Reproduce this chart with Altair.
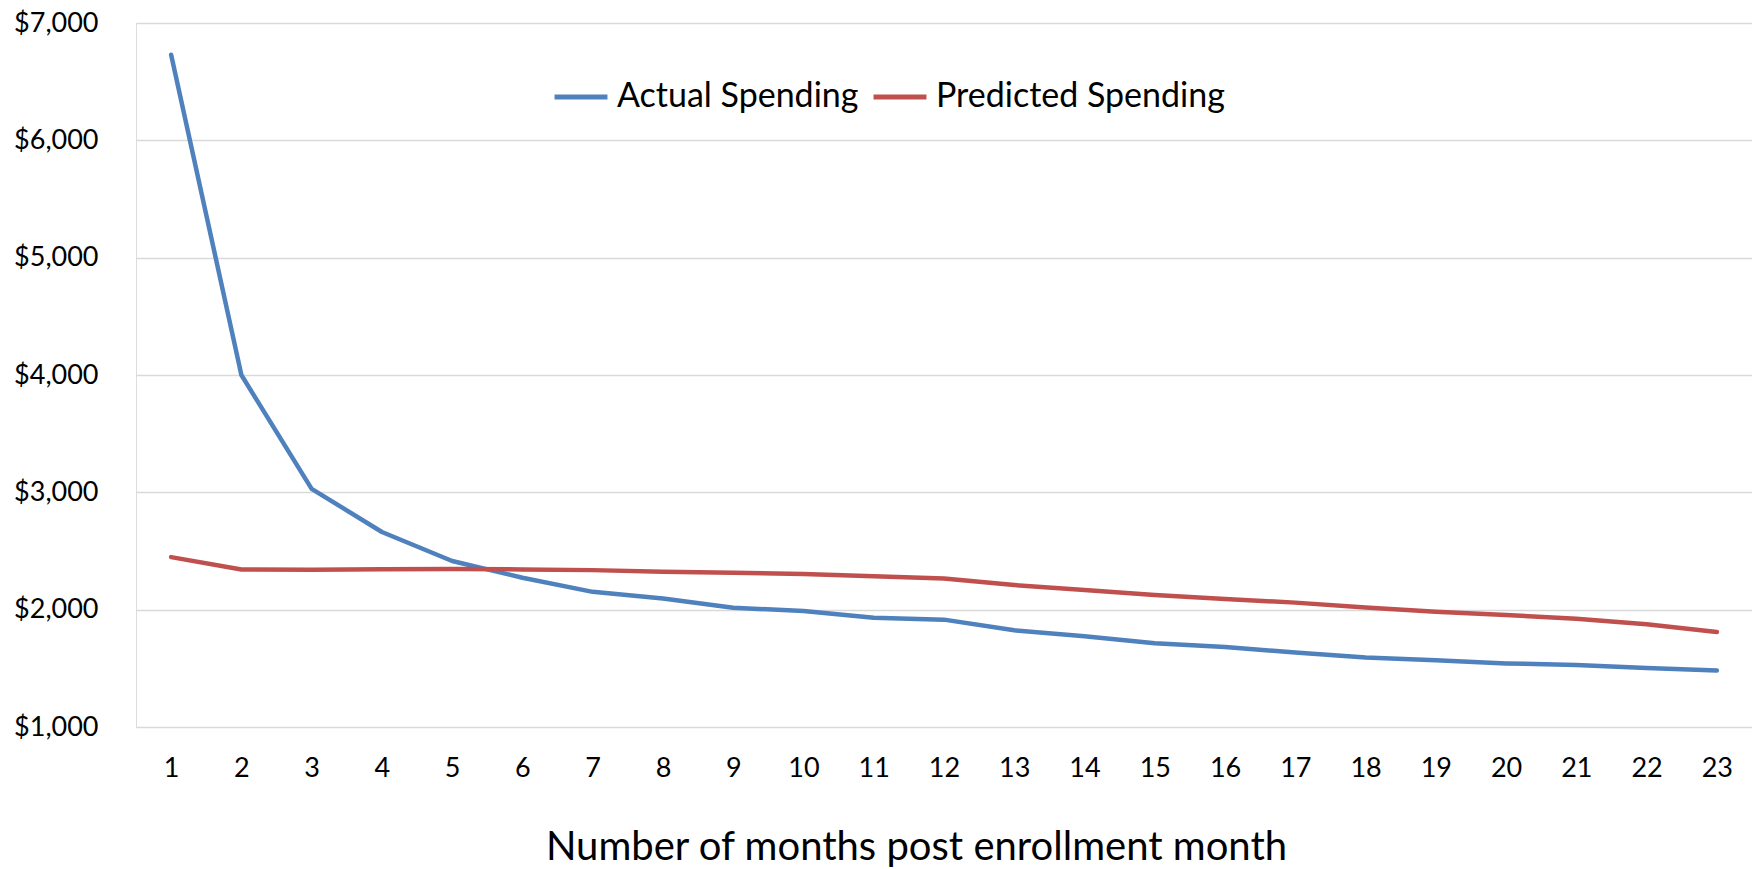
import altair as alt
import pandas as pd

months = list(range(1, 24))
actual = [6730, 4000, 3030, 2662, 2415, 2272, 2152, 2096, 2017, 1988, 1932, 1915,
          1824, 1773, 1713, 1682, 1635, 1593, 1568, 1542, 1528, 1502, 1482]
predicted = [2448, 2343, 2340, 2345, 2347, 2343, 2337, 2324, 2315, 2305, 2285, 2265,
             2210, 2168, 2125, 2090, 2060, 2018, 1983, 1955, 1923, 1875, 1810]
series_names = ["Actual Spending", "Predicted Spending"]
colors = ["#4F81BD", "#C0504D"]
y_ticks = [1000, 2000, 3000, 4000, 5000, 6000, 7000]
x_title = "Number of months post enrollment month"

rows = []
for m, a, p in zip(months, actual, predicted):
    rows.append({"month": m, "value": a, "series": series_names[0]})
    rows.append({"month": m, "value": p, "series": series_names[1]})
df = pd.DataFrame(rows)

FONT = "Lato"

chart = alt.Chart(df).mark_line(strokeWidth=4.5, strokeCap="round", strokeJoin="round").encode(
    x=alt.X("month:Q",
            scale=alt.Scale(domain=[0.5, 23.5], nice=False, zero=False),
            axis=alt.Axis(values=months, format="d", grid=False, domain=False, ticks=False,
                          labelFontSize=27, labelFont=FONT, labelColor="#000000",
                          labelPadding=28, labelFlush=False,
                          title=x_title, titleFont=FONT, titleFontSize=40,
                          titleFontWeight="normal", titleColor="#000000",
                          titleX=780, titleAlign="center", titleBaseline="alphabetic",
                          titleY=132)),
    y=alt.Y("value:Q",
            scale=alt.Scale(domain=[1000, 7000], nice=False, zero=False),
            axis=alt.Axis(values=y_ticks, format="$,.0f", grid=True, gridColor="#D9D9D9",
                          gridWidth=1.5, domain=False, ticks=False,
                          labelFontSize=27, labelFont=FONT, labelColor="#000000",
                          labelPadding=38, title=None)),
    color=alt.Color("series:N",
                    scale=alt.Scale(domain=series_names, range=colors),
                    legend=alt.Legend(orient="none", legendX=416, legendY=45,
                                      direction="horizontal", title=None,
                                      symbolType="stroke", symbolSize=2800,
                                      symbolStrokeWidth=5, labelFont=FONT,
                                      labelFontSize=34, labelColor="#000000",
                                      labelOffset=7, columnPadding=4, padding=0,
                                      labelLimit=500)),
    order=alt.Order("month:Q"),
).properties(
    width=1616, height=704,
    autosize=alt.AutoSizeParams(type="none"),
    padding={"left": 136, "top": 23, "right": 0, "bottom": 142},
).configure_view(stroke=None).configure(background="white")

chart.save("out.html", embed_options={"renderer": "svg", "actions": False})
